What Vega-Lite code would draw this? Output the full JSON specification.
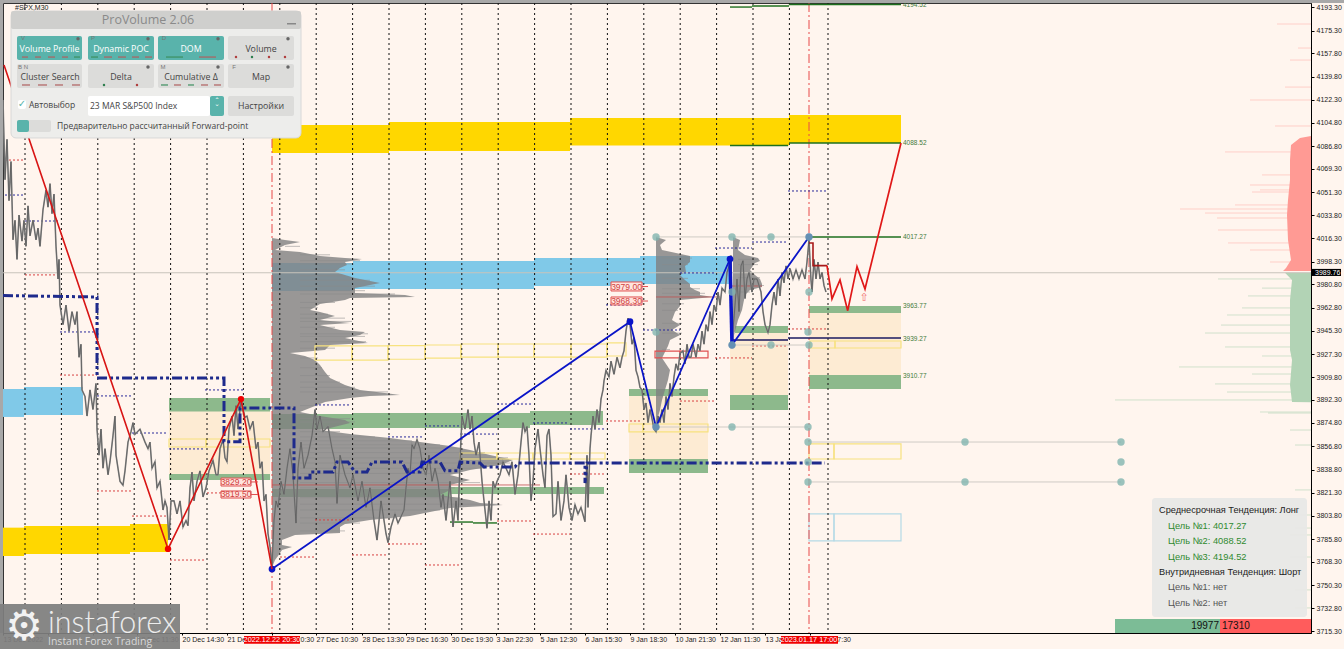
{"$schema":"https://vega.github.io/schema/vega-lite/v6.json","width":1308,"height":630,"autosize":"none","padding":{"left":3,"top":3,"right":33,"bottom":16},"background":"#FFF5EE","config":{"view":{"stroke":"#333"},"font":"Liberation Sans"},
"datasets":{
"zones":[
{"k":"tan","t":169,"t2":270,"p":3883.9,"p2":3835.6},{"k":"tan","t":629,"t2":708,"p":3895.4,"p2":3847.1},{"k":"tan","t":730,"t2":788,"p":3943.6,"p2":3896.1},{"k":"tan","t":809,"t2":901,"p":3958.9,"p2":3911.4},
{"k":"gold","t":272,"t2":389,"p":4102.9,"p2":4081.5},{"k":"gold","t":389,"t2":570,"p":4105.2,"p2":4083},{"k":"gold","t":570,"t2":789,"p":4108.3,"p2":4087.2},{"k":"gold","t":789,"t2":901,"p":4110.6,"p2":4089.2},{"k":"gold","t":3,"t2":24,"p":3794.5,"p2":3772.8},{"k":"gold","t":24,"t2":130,"p":3795.8,"p2":3774.4},{"k":"gold","t":130,"t2":168,"p":3797.3,"p2":3775.9},
{"k":"sky","t":272,"t2":353,"p":3997.2,"p2":3975.8},{"k":"sky","t":353,"t2":534,"p":3998.8,"p2":3977.3},{"k":"sky","t":534,"t2":640,"p":4001.1,"p2":3979.6},{"k":"sky","t":640,"t2":730,"p":4002.6,"p2":3981.2},{"k":"sky","t":3,"t2":24,"p":3900.7,"p2":3879.3},{"k":"sky","t":24,"t2":83,"p":3902.3,"p2":3880.8},
{"k":"green","t":169,"t2":270,"p":3893.8,"p2":3883.5},{"k":"green","t":169,"t2":270,"p":3835.6,"p2":3831},{"k":"green","t":272,"t2":353,"p":3881.6,"p2":3870.1},{"k":"green","t":353,"t2":530,"p":3882.4,"p2":3870.9},{"k":"green","t":530,"t2":603,"p":3883.9,"p2":3873.1},{"k":"green","t":272,"t2":450,"p":3824.1,"p2":3818},{"k":"green","t":450,"t2":604,"p":3825.7,"p2":3820.3},{"k":"green","t":629,"t2":708,"p":3900.7,"p2":3895.4},{"k":"green","t":629,"t2":708,"p":3847.1,"p2":3836.4},{"k":"green","t":730,"t2":788,"p":3896.1,"p2":3884.6},{"k":"green","t":735,"t2":788,"p":3949,"p2":3943.6},{"k":"green","t":809,"t2":901,"p":3964.3,"p2":3958.9},{"k":"green","t":809,"t2":901,"p":3911.4,"p2":3900.7}],
"boxes":[
{"k":"y","t":315,"t2":352,"p":3933.7,"p2":3922.9},{"k":"y","t":352,"t2":388,"p":3933.7,"p2":3922.9},{"k":"y","t":388,"t2":425,"p":3934,"p2":3923.5},{"k":"y","t":425,"t2":461,"p":3934.4,"p2":3924.4},{"k":"y","t":461,"t2":498,"p":3935.2,"p2":3925.2},{"k":"y","t":498,"t2":534,"p":3935.2,"p2":3925.2},{"k":"y","t":534,"t2":571,"p":3935.2,"p2":3925.2},{"k":"y","t":571,"t2":607,"p":3935.2,"p2":3925.2},{"k":"y","t":607,"t2":626,"p":3936,"p2":3926},
{"k":"y","t":169,"t2":206,"p":3862.4,"p2":3856.3},{"k":"y","t":206,"t2":270,"p":3862.4,"p2":3856.3},
{"k":"y","t":460,"t2":497,"p":3851.7,"p2":3847.1},{"k":"y","t":497,"t2":533,"p":3851.7,"p2":3847.1},{"k":"y","t":533,"t2":570,"p":3851.7,"p2":3847.1},{"k":"y","t":570,"t2":605,"p":3851.7,"p2":3847.1},
{"k":"y","t":629,"t2":643,"p":3873.9,"p2":3867.8},{"k":"y","t":643,"t2":680,"p":3873.9,"p2":3867.8},{"k":"y","t":680,"t2":708,"p":3873.9,"p2":3867.8},
{"k":"y","t":810,"t2":835,"p":3937.5,"p2":3932.1},{"k":"y","t":835,"t2":901,"p":3937.5,"p2":3932.1},
{"k":"y","t":809,"t2":834,"p":3858.6,"p2":3847.1},{"k":"y","t":834,"t2":901,"p":3858.6,"p2":3847.1},
{"k":"b","t":809,"t2":834,"p":3805,"p2":3784.3},{"k":"b","t":834,"t2":901,"p":3805,"p2":3784.3},
{"k":"r","t":655,"t2":680,"p":3929.8,"p2":3924.5},{"k":"r","t":680,"t2":708,"p":3929.8,"p2":3924.5}],
"prof1":[{"t":272,"p":4016.4},{"t":285,"p":4014.9},{"t":300,"p":4013.4},{"t":285,"p":4011},{"t":275,"p":4007.2},{"t":300,"p":4005.7},{"t":320,"p":4002.6},{"t":345,"p":4001.1},{"t":362,"p":4000.3},{"t":345,"p":3998},{"t":347,"p":3995.7},{"t":340,"p":3993.4},{"t":335,"p":3990.3},{"t":355,"p":3985.8},{"t":380,"p":3981.9},{"t":355,"p":3978.1},{"t":355,"p":3974.3},{"t":405,"p":3972.7},{"t":415,"p":3971.2},{"t":350,"p":3970.4},{"t":345,"p":3968.9},{"t":320,"p":3965.8},{"t":310,"p":3961.2},{"t":320,"p":3959.7},{"t":335,"p":3956.6},{"t":320,"p":3953.6},{"t":350,"p":3951.3},{"t":320,"p":3949.7},{"t":340,"p":3945.9},{"t":365,"p":3944.4},{"t":360,"p":3942.1},{"t":345,"p":3939.8},{"t":368,"p":3936},{"t":330,"p":3934.4},{"t":325,"p":3930.6},{"t":290,"p":3928.3},{"t":305,"p":3926},{"t":315,"p":3922.9},{"t":320,"p":3919.1},{"t":325,"p":3913.7},{"t":330,"p":3909.2},{"t":345,"p":3903.8},{"t":360,"p":3900},{"t":385,"p":3897.7},{"t":400,"p":3896.1},{"t":370,"p":3895.4},{"t":350,"p":3893.8},{"t":325,"p":3890.8},{"t":310,"p":3886.2},{"t":300,"p":3883.1},{"t":320,"p":3880},{"t":345,"p":3877},{"t":350,"p":3874.7},{"t":330,"p":3870.9},{"t":320,"p":3869.3},{"t":350,"p":3866.3},{"t":390,"p":3863.2},{"t":420,"p":3860.1},{"t":450,"p":3857.1},{"t":470,"p":3854},{"t":490,"p":3850.2},{"t":513,"p":3846.3},{"t":500,"p":3842.5},{"t":470,"p":3838.7},{"t":450,"p":3834.8},{"t":470,"p":3831},{"t":450,"p":3827.2},{"t":450,"p":3823.4},{"t":440,"p":3819.5},{"t":470,"p":3815.7},{"t":480,"p":3813.4},{"t":503,"p":3811.9},{"t":450,"p":3809.6},{"t":430,"p":3806.5},{"t":410,"p":3803.4},{"t":370,"p":3800.4},{"t":345,"p":3797.3},{"t":340,"p":3795},{"t":340,"p":3790.4},{"t":295,"p":3788.9},{"t":282,"p":3785},{"t":282,"p":3781.2},{"t":292,"p":3779.7},{"t":282,"p":3777.4},{"t":278,"p":3772.8},{"t":275,"p":3769.7},{"t":273,"p":3765.9}],
"prof2":[{"t":656,"p":4017.2},{"t":666,"p":4014.9},{"t":660,"p":4011},{"t":662,"p":4007.2},{"t":690,"p":4002.6},{"t":690,"p":3998},{"t":685,"p":3994.9},{"t":686,"p":3990.3},{"t":680,"p":3988},{"t":685,"p":3984.2},{"t":690,"p":3981.2},{"t":690,"p":3978.9},{"t":695,"p":3976.6},{"t":700,"p":3975},{"t":700,"p":3972.7},{"t":713,"p":3971.2},{"t":680,"p":3968.9},{"t":680,"p":3964.3},{"t":675,"p":3959.7},{"t":672,"p":3953.6},{"t":680,"p":3949.7},{"t":672,"p":3945.9},{"t":680,"p":3942.1},{"t":670,"p":3938.3},{"t":668,"p":3933.7},{"t":665,"p":3929.1},{"t":662,"p":3924.5},{"t":670,"p":3915.3},{"t":668,"p":3907.6},{"t":665,"p":3900},{"t":662,"p":3892.3},{"t":660,"p":3884.6},{"t":657,"p":3877},{"t":656,"p":3871.6}],
"prof3":[{"t":733,"p":4017.2},{"t":740,"p":4014.9},{"t":738,"p":4007.2},{"t":745,"p":4003.4},{"t":758,"p":4001.1},{"t":760,"p":3998.8},{"t":755,"p":3997.2},{"t":750,"p":3991.9},{"t":755,"p":3988},{"t":760,"p":3985},{"t":762,"p":3981.2},{"t":762,"p":3978.9},{"t":750,"p":3976.6},{"t":745,"p":3972.7},{"t":742,"p":3961.2},{"t":738,"p":3953.6},{"t":734,"p":3942.1},{"t":733,"p":3934.4}],
"spk1":[{"t":285,"p":4010},{"t":330,"p":4003.5},{"t":360,"p":3999},{"t":352,"p":3996.5},{"t":345,"p":3992},{"t":345,"p":3987.5},{"t":370,"p":3984},{"t":375,"p":3979.5},{"t":365,"p":3976},{"t":395,"p":3973.5},{"t":335,"p":3967},{"t":318,"p":3963},{"t":328,"p":3958},{"t":345,"p":3955},{"t":352,"p":3952.5},{"t":335,"p":3948},{"t":368,"p":3943},{"t":365,"p":3941},{"t":366,"p":3937},{"t":335,"p":3932},{"t":318,"p":3924.5},{"t":322,"p":3917},{"t":330,"p":3911},{"t":340,"p":3906},{"t":355,"p":3902},{"t":388,"p":3898.5},{"t":318,"p":3888},{"t":350,"p":3878},{"t":355,"p":3875.5},{"t":340,"p":3868},{"t":375,"p":3864},{"t":412,"p":3861},{"t":440,"p":3858},{"t":460,"p":3855.5},{"t":485,"p":3852},{"t":508,"p":3848},{"t":510,"p":3844},{"t":485,"p":3840},{"t":462,"p":3836},{"t":480,"p":3829},{"t":455,"p":3825},{"t":460,"p":3817.5},{"t":500,"p":3812.5},{"t":440,"p":3808},{"t":395,"p":3802},{"t":360,"p":3798},{"t":345,"p":3792}],
"spk2":[{"t":692,"p":4001},{"t":688,"p":3996},{"t":688,"p":3985.5},{"t":700,"p":3977.5},{"t":705,"p":3974},{"t":684,"p":3966},{"t":678,"p":3961},{"t":682,"p":3951},{"t":682,"p":3943.5},{"t":670,"p":3931}],
"spk3":[{"t":758,"p":4000},{"t":758,"p":3996},{"t":760,"p":3986},{"t":764,"p":3980},{"t":750,"p":3975}],
"histPink":[{"t":1311,"p":4094.5},{"t":1300,"p":4093},{"t":1291,"p":4087.6},{"t":1290,"p":4076.1},{"t":1290,"p":4060.8},{"t":1288,"p":4045.5},{"t":1287,"p":4034},{"t":1288,"p":4014.9},{"t":1291,"p":3999.5},{"t":1286,"p":3993.4},{"t":1283,"p":3991.1}],
"histGreen":[{"t":1285,"p":3989.8},{"t":1292,"p":3984.2},{"t":1290,"p":3968.9},{"t":1290,"p":3930.6},{"t":1292,"p":3923},{"t":1290,"p":3903.8},{"t":1292,"p":3890.8},{"t":1311,"p":3890.5}],
"spikesPink":[{"t":1277,"p":4180.3},{"t":1298,"p":4161.9},{"t":1290,"p":4152.7},{"t":1285,"p":4132},{"t":1250,"p":4122.1},{"t":1275,"p":4102.2},{"t":1225,"p":4082.3},{"t":1262,"p":4064.7},{"t":1250,"p":4057},{"t":1260,"p":4053.2},{"t":1252,"p":4051.6},{"t":1235,"p":4041.7},{"t":1180,"p":4038.6},{"t":1205,"p":4035.5},{"t":1217,"p":4031.7},{"t":1218,"p":4022.5},{"t":1228,"p":4012.6},{"t":1250,"p":4007.2},{"t":1270,"p":3998}],
"spikesGreen":[{"t":1218,"p":3985},{"t":1262,"p":3978},{"t":1248,"p":3972},{"t":1242,"p":3962.8},{"t":1227,"p":3957.4},{"t":1221,"p":3949.7},{"t":1205,"p":3943.6},{"t":1225,"p":3932.9},{"t":1262,"p":3926},{"t":1179,"p":3917.6},{"t":1252,"p":3912.2},{"t":1215,"p":3904.6},{"t":1227,"p":3898.4},{"t":1115,"p":3892.3},{"t":1260,"p":3883.1},{"t":1268,"p":3882.3},{"t":1290,"p":3869.3},{"t":1295,"p":3857.8},{"t":1295,"p":3823.4},{"t":1285,"p":3804.2},{"t":1295,"p":3794.2},{"t":1290,"p":3788.9},{"t":1290,"p":3772},{"t":1295,"p":3746.8},{"t":1295,"p":3733}],
"vlines":[{"t":25,"p":4196.4,"p2":3713.8},{"t":61.4,"p":4196.4,"p2":3713.8},{"t":97.8,"p":4196.4,"p2":3713.8},{"t":134.2,"p":4196.4,"p2":3713.8},{"t":170.6,"p":4196.4,"p2":3713.8},{"t":207,"p":4196.4,"p2":3713.8},{"t":243.4,"p":4196.4,"p2":3713.8},{"t":279.8,"p":4196.4,"p2":3713.8},{"t":316.2,"p":4196.4,"p2":3713.8},{"t":352.6,"p":4196.4,"p2":3713.8},{"t":389,"p":4196.4,"p2":3713.8},{"t":425.4,"p":4196.4,"p2":3713.8},{"t":461.8,"p":4196.4,"p2":3713.8},{"t":498.2,"p":4196.4,"p2":3713.8},{"t":534.6,"p":4196.4,"p2":3713.8},{"t":571,"p":4196.4,"p2":3713.8},{"t":607.4,"p":4196.4,"p2":3713.8},{"t":643.8,"p":4196.4,"p2":3713.8},{"t":680.2,"p":4196.4,"p2":3713.8},{"t":716.6,"p":4196.4,"p2":3713.8},{"t":753,"p":4196.4,"p2":3713.8},{"t":789.4,"p":4196.4,"p2":3713.8},{"t":828,"p":4196.4,"p2":3713.8}],
"redV":[{"t":272,"p":4196.4,"p2":3713.8},{"t":809,"p":4196.4,"p2":3713.8}],
"dashBlue":[{"t":5,"t2":25,"p":4049.3},{"t":25,"t2":58,"p":4029.4},{"t":60,"t2":97,"p":3944.4},{"t":97,"t2":132,"p":3895.4},{"t":132,"t2":168,"p":3867},{"t":169,"t2":205,"p":3854.8},{"t":205,"t2":243,"p":3900},{"t":315,"t2":350,"p":3888.5},{"t":388,"t2":423,"p":3864},{"t":425,"t2":460,"p":3872.4},{"t":460,"t2":497,"p":3866.2},{"t":497,"t2":532,"p":3889.2},{"t":533,"t2":568,"p":3874.7},{"t":570,"t2":605,"p":3870.1},{"t":606,"t2":640,"p":3965.1},{"t":643,"t2":680,"p":3945.9},{"t":680,"t2":715,"p":3989.6},{"t":715,"t2":752,"p":4008.7},{"t":752,"t2":788,"p":4013.3},{"t":788,"t2":828,"p":4052.4}],
"dashRed":[{"t":5,"t2":25,"p":4076.1},{"t":25,"t2":58,"p":3988.1},{"t":60,"t2":97,"p":3911.4},{"t":97,"t2":132,"p":3822.6},{"t":132,"t2":168,"p":3803.4},{"t":170,"t2":205,"p":3769.7},{"t":207,"t2":243,"p":3821.1},{"t":280,"t2":315,"p":3772},{"t":315,"t2":350,"p":3800.4},{"t":352,"t2":388,"p":3773.6},{"t":388,"t2":423,"p":3782},{"t":425,"t2":460,"p":3765.9},{"t":497,"t2":532,"p":3799.6},{"t":533,"t2":570,"p":3789.6},{"t":570,"t2":605,"p":3835.6},{"t":606,"t2":642,"p":3876.2},{"t":680,"t2":715,"p":3891.5},{"t":715,"t2":752,"p":3924.5},{"t":752,"t2":788,"p":3933.7},{"t":788,"t2":828,"p":3946.7}],
"solidGreen":[{"t":730,"t2":752,"p":4193.3},{"t":752,"t2":789,"p":4194.1},{"t":789,"t2":901,"p":4195.3},{"t":730,"t2":788,"p":4087.2},{"t":789,"t2":901,"p":4089.2},{"t":809,"t2":901,"p":4017.2},{"t":450,"t2":473,"p":3798.8},{"t":473,"t2":497,"p":3798.1}],
"solidNavy":[{"t":733,"t2":788,"p":3938.3},{"t":788,"t2":901,"p":3939.8}],
"solidGrey":[{"t":656,"t2":809,"p":4017.2},{"t":732,"t2":809,"p":3934.4},{"t":656,"t2":808,"p":3871.6},{"t":808,"t2":1121,"p":3860.1},{"t":808,"t2":1121,"p":3829.5}],
"solidRed":[{"t":272,"t2":540,"p":3827.2},{"t":656,"t2":720,"p":3971.2},{"t":730,"t2":762,"p":3979.6}],
"price":[{"t":3,"p":4122},{"t":5,"p":4061},{"t":7,"p":4092},{"t":9,"p":4045},{"t":11,"p":4075},{"t":13,"p":4015},{"t":15,"p":4030},{"t":17,"p":4000},{"t":19,"p":4034},{"t":22,"p":4014},{"t":24,"p":4030},{"t":26,"p":4010},{"t":28,"p":4041},{"t":30,"p":4018},{"t":33,"p":4030},{"t":36,"p":4015},{"t":38,"p":4024},{"t":40,"p":4010},{"t":43,"p":4038},{"t":46,"p":4053},{"t":48,"p":4040},{"t":50,"p":4058},{"t":52,"p":4035},{"t":54,"p":4050},{"t":56,"p":4010},{"t":58,"p":3985},{"t":59,"p":4000},{"t":60,"p":3965},{"t":63,"p":3950},{"t":66,"p":3965},{"t":69,"p":3945},{"t":72,"p":3960},{"t":75,"p":3950},{"t":77,"p":3960},{"t":79,"p":3925},{"t":81,"p":3935},{"t":82,"p":3900},{"t":85,"p":3895},{"t":87,"p":3880},{"t":90,"p":3900},{"t":93,"p":3885},{"t":96,"p":3905},{"t":97,"p":3870},{"t":99,"p":3850},{"t":101,"p":3870},{"t":103,"p":3840},{"t":105,"p":3855},{"t":108,"p":3835},{"t":110,"p":3845},{"t":113,"p":3865},{"t":115,"p":3880},{"t":116,"p":3850},{"t":118,"p":3840},{"t":120,"p":3830},{"t":123,"p":3827},{"t":125,"p":3838},{"t":128,"p":3860},{"t":131,"p":3868},{"t":133,"p":3875},{"t":135,"p":3866},{"t":140,"p":3870},{"t":145,"p":3860},{"t":148,"p":3855},{"t":150,"p":3860},{"t":152,"p":3840},{"t":155,"p":3845},{"t":157,"p":3825},{"t":160,"p":3830},{"t":163,"p":3808},{"t":165,"p":3815},{"t":167,"p":3810},{"t":169,"p":3785},{"t":171,"p":3815},{"t":174,"p":3815},{"t":177,"p":3805},{"t":180,"p":3815},{"t":183,"p":3795},{"t":186,"p":3800},{"t":188,"p":3796},{"t":190,"p":3825},{"t":192,"p":3837},{"t":194,"p":3815},{"t":197,"p":3830},{"t":200,"p":3838},{"t":203,"p":3818},{"t":206,"p":3825},{"t":209,"p":3838},{"t":213,"p":3846},{"t":216,"p":3835},{"t":218,"p":3835},{"t":220,"p":3855},{"t":223,"p":3862},{"t":225,"p":3848},{"t":227,"p":3845},{"t":229,"p":3870},{"t":232,"p":3880},{"t":234,"p":3865},{"t":236,"p":3888},{"t":238,"p":3870},{"t":241,"p":3893},{"t":243,"p":3885},{"t":245,"p":3879},{"t":247,"p":3880},{"t":250,"p":3870},{"t":253,"p":3876},{"t":256,"p":3855},{"t":258,"p":3860},{"t":260,"p":3840},{"t":262,"p":3845},{"t":264,"p":3815},{"t":266,"p":3820},{"t":268,"p":3790},{"t":270,"p":3780},{"t":272,"p":3765},{"t":274,"p":3800},{"t":276,"p":3815},{"t":278,"p":3810},{"t":281,"p":3830},{"t":284,"p":3820},{"t":287,"p":3840},{"t":290,"p":3855},{"t":293,"p":3835},{"t":296,"p":3798},{"t":298,"p":3840},{"t":301,"p":3860},{"t":304,"p":3840},{"t":308,"p":3850},{"t":312,"p":3865},{"t":315,"p":3885},{"t":317,"p":3870},{"t":320,"p":3880},{"t":323,"p":3868},{"t":328,"p":3872},{"t":332,"p":3855},{"t":335,"p":3845},{"t":337,"p":3813},{"t":340,"p":3850},{"t":345,"p":3835},{"t":350,"p":3825},{"t":353,"p":3835},{"t":358,"p":3815},{"t":362,"p":3830},{"t":366,"p":3810},{"t":370,"p":3825},{"t":374,"p":3800},{"t":377,"p":3785},{"t":378,"p":3792},{"t":381,"p":3815},{"t":384,"p":3800},{"t":386,"p":3790},{"t":388,"p":3783},{"t":391,"p":3795},{"t":395,"p":3805},{"t":398,"p":3798},{"t":401,"p":3803},{"t":404,"p":3808},{"t":406,"p":3825},{"t":408,"p":3840},{"t":410,"p":3835},{"t":412,"p":3858},{"t":414,"p":3855},{"t":417,"p":3862},{"t":420,"p":3855},{"t":423,"p":3840},{"t":426,"p":3835},{"t":429,"p":3850},{"t":432,"p":3830},{"t":435,"p":3840},{"t":438,"p":3830},{"t":441,"p":3810},{"t":443,"p":3820},{"t":446,"p":3800},{"t":450,"p":3830},{"t":453,"p":3795},{"t":456,"p":3815},{"t":458,"p":3800},{"t":460,"p":3845},{"t":462,"p":3880},{"t":465,"p":3870},{"t":468,"p":3885},{"t":470,"p":3870},{"t":472,"p":3880},{"t":474,"p":3860},{"t":476,"p":3850},{"t":479,"p":3860},{"t":482,"p":3830},{"t":484,"p":3815},{"t":487,"p":3794},{"t":489,"p":3815},{"t":491,"p":3800},{"t":493,"p":3830},{"t":495,"p":3825},{"t":497,"p":3830},{"t":500,"p":3835},{"t":503,"p":3845},{"t":506,"p":3840},{"t":509,"p":3835},{"t":512,"p":3845},{"t":515,"p":3820},{"t":518,"p":3835},{"t":521,"p":3860},{"t":523,"p":3875},{"t":525,"p":3868},{"t":527,"p":3872},{"t":529,"p":3850},{"t":531,"p":3815},{"t":533,"p":3830},{"t":535,"p":3855},{"t":538,"p":3870},{"t":540,"p":3855},{"t":543,"p":3835},{"t":545,"p":3825},{"t":547,"p":3865},{"t":549,"p":3870},{"t":551,"p":3850},{"t":553,"p":3803},{"t":556,"p":3805},{"t":558,"p":3830},{"t":561,"p":3800},{"t":564,"p":3815},{"t":566,"p":3835},{"t":569,"p":3810},{"t":572,"p":3800},{"t":575,"p":3812},{"t":578,"p":3805},{"t":581,"p":3810},{"t":585,"p":3799},{"t":587,"p":3850},{"t":588,"p":3810},{"t":590,"p":3855},{"t":591,"p":3865},{"t":593,"p":3880},{"t":595,"p":3870},{"t":597,"p":3885},{"t":599,"p":3875},{"t":601,"p":3893},{"t":603,"p":3900},{"t":604,"p":3907},{"t":606,"p":3915},{"t":609,"p":3910},{"t":611,"p":3922},{"t":614,"p":3912},{"t":617,"p":3925},{"t":620,"p":3917},{"t":622,"p":3925},{"t":624,"p":3930},{"t":626,"p":3945},{"t":628,"p":3955},{"t":630,"p":3950},{"t":632,"p":3935},{"t":634,"p":3940},{"t":636,"p":3915},{"t":638,"p":3910},{"t":640,"p":3902},{"t":642,"p":3900},{"t":644,"p":3885},{"t":646,"p":3890},{"t":648,"p":3875},{"t":650,"p":3885},{"t":652,"p":3878},{"t":654,"p":3870},{"t":656,"p":3868},{"t":658,"p":3880},{"t":660,"p":3875},{"t":662,"p":3885},{"t":664,"p":3875},{"t":666,"p":3895},{"t":668,"p":3885},{"t":670,"p":3905},{"t":672,"p":3895},{"t":674,"p":3910},{"t":676,"p":3920},{"t":678,"p":3915},{"t":680,"p":3928},{"t":683,"p":3930},{"t":685,"p":3920},{"t":687,"p":3935},{"t":689,"p":3925},{"t":691,"p":3925},{"t":693,"p":3935},{"t":696,"p":3925},{"t":698,"p":3935},{"t":700,"p":3930},{"t":702,"p":3945},{"t":704,"p":3935},{"t":706,"p":3950},{"t":708,"p":3945},{"t":710,"p":3960},{"t":712,"p":3950},{"t":714,"p":3965},{"t":716,"p":3960},{"t":718,"p":3975},{"t":720,"p":3965},{"t":722,"p":3978},{"t":725,"p":3975},{"t":727,"p":3990},{"t":729,"p":3995},{"t":731,"p":4003},{"t":732,"p":3940},{"t":734,"p":3955},{"t":737,"p":3985},{"t":739,"p":3960},{"t":741,"p":3995},{"t":743,"p":3999},{"t":745,"p":3970},{"t":747,"p":3985},{"t":749,"p":3990},{"t":752,"p":3975},{"t":754,"p":3985},{"t":757,"p":3985},{"t":759,"p":3980},{"t":761,"p":3975},{"t":763,"p":3960},{"t":765,"p":3950},{"t":768,"p":3944},{"t":770,"p":3950},{"t":772,"p":3965},{"t":774,"p":3975},{"t":776,"p":3965},{"t":778,"p":3985},{"t":780,"p":3972},{"t":782,"p":3990},{"t":784,"p":3982},{"t":786,"p":3995},{"t":788,"p":3985},{"t":790,"p":3993},{"t":793,"p":3985},{"t":796,"p":3992},{"t":799,"p":3985},{"t":802,"p":3992},{"t":805,"p":3985},{"t":807,"p":3998},{"t":809,"p":4015},{"t":811,"p":3984},{"t":812,"p":3975},{"t":814,"p":4000},{"t":816,"p":3985},{"t":818,"p":3998},{"t":820,"p":3985},{"t":822,"p":3990},{"t":824,"p":3980},{"t":826,"p":3975}],
"poc":[{"t":3,"p":3972.3},{"t":97,"p":3971.2},{"t":97,"p":3909.2},{"t":224,"p":3909.2},{"t":224,"p":3860.3},{"t":240,"p":3860.3},{"t":240,"p":3886.2},{"t":294,"p":3886.2},{"t":294,"p":3832.5},{"t":310,"p":3832.5},{"t":310,"p":3837.1},{"t":333,"p":3837.1},{"t":337,"p":3844.8},{"t":348,"p":3844.8},{"t":355,"p":3837.1},{"t":367,"p":3837.1},{"t":372,"p":3844.8},{"t":402,"p":3844.8},{"t":407,"p":3837.1},{"t":420,"p":3837.1},{"t":422,"p":3844.8},{"t":440,"p":3844.8},{"t":445,"p":3838},{"t":458,"p":3838},{"t":460,"p":3844.8},{"t":480,"p":3844},{"t":484,"p":3841},{"t":515,"p":3841},{"t":518,"p":3844},{"t":585,"p":3844},{"t":585,"p":3828.7},{"t":587,"p":3844},{"t":825,"p":3844}],
"blueZig":[{"t":272,"p":3762.8},{"t":630,"p":3952.3},{"t":656,"p":3871.6},{"t":730,"p":4000.3},{"t":732,"p":3934.4},{"t":809,"p":4017.2}],
"blueThick":[{"t":730,"p":4000.3},{"t":732,"p":3934.4}],
"redZig":[{"t":4,"p":4148.9},{"t":168,"p":3778.2},{"t":241,"p":3893},{"t":272,"p":3762.8}],
"redDots":[{"t":168,"p":3778.2},{"t":241,"p":3893}],
"darkStep":[{"t":809,"p":4012.6},{"t":813,"p":4012.6},{"t":813,"p":3995.2},{"t":827,"p":3995.2}],
"forecast":[{"t":827,"p":3995.2},{"t":832,"p":3969.7},{"t":840,"p":3984.2},{"t":847.7,"p":3960.7},{"t":857,"p":3994.4},{"t":865,"p":3977.3},{"t":901,"p":4089.2}],
"tealDots":[{"t":656,"p":4017.2},{"t":732,"p":4017.2},{"t":771,"p":4017.2},{"t":809,"p":4017.2},{"t":732,"p":3975},{"t":809,"p":3975},{"t":656,"p":3944.4},{"t":808,"p":3944.4},{"t":732,"p":3934.4},{"t":771,"p":3934.4},{"t":809,"p":3934.4},{"t":656,"p":3871.6},{"t":732,"p":3871.6},{"t":808,"p":3871.6},{"t":808,"p":3860.1},{"t":965,"p":3860.1},{"t":1121,"p":3860.1},{"t":808,"p":3844.8},{"t":1121,"p":3844.8},{"t":808,"p":3829.5},{"t":965,"p":3829.5},{"t":1121,"p":3829.5}],
"levelLabels":[{"t":903,"p":4195,"s":"4194.52"},{"t":903,"p":4088.9,"s":"4088.52"},{"t":903,"p":4017.3,"s":"4017.27"},{"t":903,"p":3964,"s":"3963.77"},{"t":903,"p":3939.3,"s":"3939.27"},{"t":903,"p":3911,"s":"3910.77"}],
"tags":[{"t":221,"t2":251,"p":3832.5,"p2":3826.4},{"t":221,"t2":251,"p":3822.6,"p2":3817.2},{"t":611,"t2":642,"p":3982.7,"p2":3975.8},{"t":611,"t2":642,"p":3971.2,"p2":3965.1}],
"tagTails":[{"t":251,"t2":258,"p":3829.5},{"t":251,"t2":258,"p":3819.9},{"t":642,"t2":648,"p":3979.2},{"t":642,"t2":648,"p":3968.1}],
"tagText":[{"t":236,"p":3829.5,"s":"3829.20"},{"t":236,"p":3819.9,"s":"3819.50"},{"t":626.5,"p":3979.2,"s":"3979.00"},{"t":626.5,"p":3968.1,"s":"3968.30"}],
"frame":[{"t":0,"t2":1344,"p":4198.7,"p2":4196.4},{"t":0,"t2":3,"p":4198.7,"p2":3713.8}],
"infoHead":[{"t":1159,"p":3808,"s":"Среднесрочная Тенденция: Лонг"},{"t":1159,"p":3760.5,"s":"Внутридневная Тенденция: Шорт"}],
"infoGreen":[{"t":1168,"p":3795.8,"s":"Цель №1: 4017.27"},{"t":1168,"p":3784.3,"s":"Цель №2: 4088.52"},{"t":1168,"p":3772,"s":"Цель №3: 4194.52"}],
"infoGrey":[{"t":1168,"p":3749,"s":"Цель №1: нет"},{"t":1168,"p":3736.8,"s":"Цель №2: нет"}],
"panelRects":[
{"k":"title","t":11,"t2":301,"p":4190.3,"p2":4176.5},
{"k":"teal","t":17,"t2":82,"p":4171.1,"p2":4152.7},{"k":"teal","t":88,"t2":154,"p":4171.1,"p2":4152.7},{"k":"teal","t":158,"t2":224,"p":4171.1,"p2":4152.7},{"k":"btn","t":228,"t2":294,"p":4171.1,"p2":4152.7},
{"k":"btn","t":17,"t2":82,"p":4149.7,"p2":4131.3},{"k":"btn","t":88,"t2":154,"p":4149.7,"p2":4131.3},{"k":"btn","t":158,"t2":224,"p":4149.7,"p2":4131.3},{"k":"btn","t":228,"t2":294,"p":4149.7,"p2":4131.3},
{"k":"white","t":88,"t2":210,"p":4125.2,"p2":4109.8},{"k":"teal","t":210,"t2":224,"p":4125.2,"p2":4109.8},{"k":"btn","t":228,"t2":294,"p":4125.2,"p2":4109.8},
{"k":"white","t":18,"t2":26,"p":4122.1,"p2":4115.2},
{"k":"btn","t":17,"t2":51,"p":4106.8,"p2":4097.6},{"k":"teal","t":17,"t2":29,"p":4106.8,"p2":4097.6}],
"panelRed":[{"t":22,"t2":28,"p":4155},{"t":35,"t2":41,"p":4155},{"t":48,"t2":55,"p":4155},{"t":62,"t2":68,"p":4155},{"t":104,"t2":112,"p":4155},{"t":118,"t2":126,"p":4155},{"t":132,"t2":139,"p":4155},{"t":145,"t2":152,"p":4155},{"t":199,"t2":216,"p":4155},{"t":22,"t2":30,"p":4133.6},{"t":38,"t2":47,"p":4133.6},{"t":55,"t2":63,"p":4133.6},{"t":72,"t2":80,"p":4133.6},{"t":174,"t2":181,"p":4133.6},{"t":201,"t2":208,"p":4133.6},{"t":214,"t2":221,"p":4133.6}],
"panelGreen":[{"t":74,"t2":80,"p":4155},{"t":91,"t2":98,"p":4155},{"t":166,"t2":183,"p":4155},{"t":161,"t2":168,"p":4133.6},{"t":188,"t2":194,"p":4133.6}],
"panelDotsRed":[{"t":236,"p":4155},{"t":269,"p":4155},{"t":285,"p":4155},{"t":137,"p":4133.6}],
"panelDotsGreen":[{"t":252,"p":4155},{"t":104,"p":4133.6}],
"gears":[{"t":78,"p":4169},{"t":148,"p":4169},{"t":218,"p":4169},{"t":288,"p":4169},{"t":148,"p":4147.4},{"t":218,"p":4147.4},{"t":288,"p":4147.4}],
"keys":[{"t":23,"p":4169.5,"s":"V"},{"t":93,"p":4169.5,"s":"P"},{"t":164,"p":4169.5,"s":"D"},{"t":23,"p":4147.5,"s":"B N"},{"t":163,"p":4147.5,"s":"M"},{"t":234,"p":4147.5,"s":"F"}],
"btnWhite":[{"t":49.5,"p":4161,"s":"Volume Profile"},{"t":121,"p":4161,"s":"Dynamic POC"},{"t":191,"p":4161,"s":"DOM"},{"t":217,"p":4120.5,"s":"ˆ"},{"t":217,"p":4115,"s":"ˇ"}],
"btnDark":[{"t":261,"p":4161,"s":"Volume"},{"t":50,"p":4140,"s":"Cluster Search"},{"t":121,"p":4140,"s":"Delta"},{"t":191,"p":4140,"s":"Cumulative Δ"},{"t":261,"p":4140,"s":"Map"},{"t":261,"p":4117.5,"s":"Настройки"}],
"panelLeft":[{"t":29,"p":4118.5,"s":"Автовыбор"},{"t":90,"p":4117.5,"s":"23 MAR S&P500 Index"},{"t":57,"p":4102,"s":"Предварительно рассчитанный Forward-point"}],
"dateTags":[{"t":244,"t2":300,"p":3711.5,"p2":3705.5},{"t":781,"t2":838,"p":3711.5,"p2":3705.5}],
"dateText":[{"t":272,"p":3708.6,"s":"2022.12.22 20:30"},{"t":809,"p":3708.6,"s":"2023.01.17 17:00"}]
},
"encoding":{
"x":{"field":"t","type":"quantitative","scale":{"domain":[3,1311],"nice":false,"zero":false},"axis":{"orient":"bottom","title":null,"grid":false,"values":[3,48,93,137,182,227,272,316,362,406,451,496,540,585,630,675,720,765,810],"labelExpr":"{'3':'13 Dec 2022','48':'','93':'','137':'19 Dec 11:30','182':'20 Dec 14:30','227':'21 Dec 17:30','272':'23 Dec 20:30','316':'27 Dec 10:30','362':'28 Dec 13:30','406':'29 Dec 16:30','451':'30 Dec 19:30','496':'3 Jan 22:30','540':'5 Jan 12:30','585':'6 Jan 15:30','630':'9 Jan 18:30','675':'10 Jan 21:30','720':'12 Jan 11:30','765':'13 Jan 14:30','810':'16 Jan 17:30'}[datum.value]","labelAlign":"left","labelFontSize":7,"labelPadding":0,"labelColor":"#222","labelOverlap":false,"labelFlush":false,"tickSize":2,"tickColor":"#000","domainColor":"#000"}},
"y":{"field":"p","type":"quantitative","scale":{"domain":[3713.8,4196.4],"nice":false,"zero":false},"axis":{"orient":"right","title":null,"grid":false,"values":[4193.3,4175.3,4157.8,4139.8,4122.3,4104.8,4086.8,4069.3,4051.3,4033.8,4016.3,3998.3,3980.8,3962.8,3945.3,3927.3,3909.8,3892.3,3874.8,3856.8,3838.8,3821.3,3803.8,3785.8,3768.3,3750.3,3732.8,3715.3],"format":".2f","labelFontSize":7,"labelPadding":2,"labelColor":"#222","labelOverlap":false,"tickSize":3,"tickColor":"#000","domainColor":"#000"}}
},
"resolve":{"scale":{"color":"independent"}},
"layer":[
{"data":{"name":"zones"},"mark":{"type":"rect"},"encoding":{"x2":{"field":"t2"},"y2":{"field":"p2"},"color":{"field":"k","type":"nominal","legend":null,"scale":{"domain":["tan","gold","sky","green"],"range":["#FDEBD3","#FFD700","#80C9E8","#8DB98C"]}}}},
{"data":{"name":"spikesPink"},"mark":{"type":"rule","color":"#FFB0AA","opacity":0.55},"encoding":{"x2":{"datum":1311}}},
{"data":{"name":"spikesGreen"},"mark":{"type":"rule","color":"#B2D3B5","opacity":0.6},"encoding":{"x2":{"datum":1311}}},
{"data":{"name":"histPink"},"mark":{"type":"area","orient":"horizontal","color":"#FF9A94"},"encoding":{"x2":{"datum":1311}}},
{"data":{"name":"histGreen"},"mark":{"type":"area","orient":"horizontal","color":"#B2D3B5"},"encoding":{"x2":{"datum":1311}}},
{"data":{"name":"prof1"},"mark":{"type":"area","orient":"horizontal","fill":"#7F7F7F","fillOpacity":0.8},"encoding":{"x2":{"datum":272}}},
{"data":{"name":"prof2"},"mark":{"type":"area","orient":"horizontal","fill":"#7F7F7F","fillOpacity":0.8},"encoding":{"x2":{"datum":656}}},
{"data":{"name":"prof3"},"mark":{"type":"area","orient":"horizontal","fill":"#7F7F7F","fillOpacity":0.8},"encoding":{"x2":{"datum":733}}},
{"data":{"name":"spk1"},"mark":{"type":"rule","color":"#8A8A8A","strokeWidth":1,"opacity":0.55},"encoding":{"x2":{"datum":300}}},
{"data":{"name":"spk2"},"mark":{"type":"rule","color":"#8A8A8A","strokeWidth":1,"opacity":0.55},"encoding":{"x2":{"datum":662}}},
{"data":{"name":"spk3"},"mark":{"type":"rule","color":"#8A8A8A","strokeWidth":1,"opacity":0.55},"encoding":{"x2":{"datum":738}}},
{"data":{"name":"boxes"},"mark":{"type":"rect","fillOpacity":0,"strokeWidth":1.2},"encoding":{"x2":{"field":"t2"},"y2":{"field":"p2"},"stroke":{"field":"k","type":"nominal","legend":null,"scale":{"domain":["y","b","r"],"range":["#F7E27F","#B5DAE6","#E05050"]}}}},
{"data":{"values":[{"t":3,"t2":1311,"p":3989.76}]},"mark":{"type":"rule","color":"#C8C3BB","strokeWidth":1},"encoding":{"x2":{"field":"t2"}}},
{"data":{"name":"vlines"},"mark":{"type":"rule","color":"#111","strokeWidth":1,"strokeDash":[2,3]},"encoding":{"y2":{"field":"p2"}}},
{"data":{"name":"redV"},"mark":{"type":"rule","color":"#E84848","strokeWidth":1,"strokeDash":[9,3,2,3]},"encoding":{"y2":{"field":"p2"}}},
{"data":{"name":"dashBlue"},"mark":{"type":"rule","color":"#2A2A9A","strokeWidth":1,"strokeDash":[2,2]},"encoding":{"x2":{"field":"t2"}}},
{"data":{"name":"dashRed"},"mark":{"type":"rule","color":"#D84040","strokeWidth":1,"strokeDash":[2,2]},"encoding":{"x2":{"field":"t2"}}},
{"data":{"name":"solidGrey"},"mark":{"type":"rule","color":"#CFCBC5","strokeWidth":1},"encoding":{"x2":{"field":"t2"}}},
{"data":{"name":"solidRed"},"mark":{"type":"rule","color":"#C05050","strokeWidth":1,"opacity":0.8},"encoding":{"x2":{"field":"t2"}}},
{"data":{"name":"solidGreen"},"mark":{"type":"rule","color":"#1E6F1E","strokeWidth":1.4},"encoding":{"x2":{"field":"t2"}}},
{"data":{"name":"solidNavy"},"mark":{"type":"rule","color":"#1A1A60","strokeWidth":1.4},"encoding":{"x2":{"field":"t2"}}},
{"data":{"name":"price"},"mark":{"type":"line","color":"#8A8A8A","strokeWidth":1.6},"encoding":{"order":null}},
{"data":{"name":"price"},"mark":{"type":"line","color":"#444","strokeWidth":0.5},"encoding":{"order":null}},
{"data":{"name":"poc"},"mark":{"type":"line","color":"#1E2A8C","strokeWidth":3,"strokeDash":[10,3,3,3,3,3]},"encoding":{"order":null}},
{"data":{"name":"blueZig"},"mark":{"type":"line","color":"#0A14C8","strokeWidth":1.8},"encoding":{"order":null}},
{"data":{"name":"blueThick"},"mark":{"type":"line","color":"#0A14C8","strokeWidth":3.5},"encoding":{"order":null}},
{"data":{"name":"blueZig"},"mark":{"type":"point","filled":true,"color":"#0A14C8","opacity":1,"size":45}},
{"data":{"name":"redZig"},"mark":{"type":"line","color":"#D81414","strokeWidth":1.6},"encoding":{"order":null}},
{"data":{"name":"redDots"},"mark":{"type":"point","filled":true,"color":"#F00000","opacity":1,"size":40}},
{"data":{"name":"darkStep"},"mark":{"type":"line","color":"#A81818","strokeWidth":1.6},"encoding":{"order":null}},
{"data":{"name":"forecast"},"mark":{"type":"line","color":"#E01818","strokeWidth":1.7},"encoding":{"order":null}},
{"data":{"name":"tealDots"},"mark":{"type":"point","filled":true,"color":"#7FB3AE","opacity":0.78,"size":55}},
{"data":{"values":[{"t":864,"p":3970.4,"s":"⇧"}]},"mark":{"type":"text","font":"DejaVu Sans","fontSize":11,"color":"#F07070","baseline":"middle"},"encoding":{"text":{"field":"s"}}},
{"data":{"name":"levelLabels"},"mark":{"type":"text","fontSize":6.5,"color":"#3F7A3A","align":"left","baseline":"middle"},"encoding":{"text":{"field":"s"}}},
{"data":{"name":"tags"},"mark":{"type":"rect","fill":"#FFE4DE","stroke":"#E05050","strokeWidth":1},"encoding":{"x2":{"field":"t2"},"y2":{"field":"p2"}}},
{"data":{"name":"tagTails"},"mark":{"type":"rule","color":"#E05050"},"encoding":{"x2":{"field":"t2"}}},
{"data":{"name":"tagText"},"mark":{"type":"text","fontSize":8.5,"color":"#D04040","baseline":"middle"},"encoding":{"text":{"field":"s"}}},
{"data":{"values":[{"t":1152,"t2":1307,"p":3817.2,"p2":3726}]},"mark":{"type":"rect","fill":"#E8E8E6","opacity":0.95,"cornerRadius":3},"encoding":{"x2":{"field":"t2"},"y2":{"field":"p2"}}},
{"data":{"name":"infoHead"},"mark":{"type":"text","fontSize":9.2,"color":"#222","align":"left","baseline":"middle"},"encoding":{"text":{"field":"s"}}},
{"data":{"name":"infoGreen"},"mark":{"type":"text","fontSize":9.3,"color":"#2F8A2F","align":"left","baseline":"middle"},"encoding":{"text":{"field":"s"}}},
{"data":{"name":"infoGrey"},"mark":{"type":"text","fontSize":9.3,"color":"#555","align":"left","baseline":"middle"},"encoding":{"text":{"field":"s"}}},
{"data":{"values":[{"t":1115,"t2":1220,"p":3724.6,"p2":3713.8}]},"mark":{"type":"rect","fill":"#7CBC96"},"encoding":{"x2":{"field":"t2"},"y2":{"field":"p2"}}},
{"data":{"values":[{"t":1220,"t2":1311,"p":3724.6,"p2":3713.8}]},"mark":{"type":"rect","fill":"#FF5C5C"},"encoding":{"x2":{"field":"t2"},"y2":{"field":"p2"}}},
{"data":{"values":[{"t":1219,"p":3719,"s":"19977"}]},"mark":{"type":"text","fontSize":10,"color":"#111","align":"right","baseline":"middle"},"encoding":{"text":{"field":"s"}}},
{"data":{"values":[{"t":1222,"p":3719,"s":"17310"}]},"mark":{"type":"text","fontSize":10,"color":"#111","align":"left","baseline":"middle"},"encoding":{"text":{"field":"s"}}},
{"data":{"values":[{"t":1312,"t2":1341,"p":3992.7,"p2":3987.3}]},"mark":{"type":"rect","fill":"#000"},"encoding":{"x2":{"field":"t2"},"y2":{"field":"p2"}}},
{"data":{"values":[{"t":1315,"p":3989.8,"s":"3989.76"}]},"mark":{"type":"text","fontSize":7,"color":"#fff","align":"left","baseline":"middle"},"encoding":{"text":{"field":"s"}}},
{"data":{"name":"frame"},"mark":{"type":"rect","fill":"#A8A8A8"},"encoding":{"x2":{"field":"t2"},"y2":{"field":"p2"}}},
{"data":{"values":[{"t":15,"p":4192.6,"s":"#SPX,M30"}]},"mark":{"type":"text","fontSize":7,"color":"#222","align":"left","baseline":"middle"},"encoding":{"text":{"field":"s"}}},
{"data":{"values":[{"t":11,"t2":301,"p":4190.3,"p2":4093}]},"mark":{"type":"rect","fill":"#EDEDEB","cornerRadius":5,"stroke":"#D8D8D8"},"encoding":{"x2":{"field":"t2"},"y2":{"field":"p2"}}},
{"data":{"name":"panelRects"},"mark":{"type":"rect","cornerRadius":2},"encoding":{"x2":{"field":"t2"},"y2":{"field":"p2"},"color":{"field":"k","type":"nominal","legend":null,"scale":{"domain":["title","teal","btn","white"],"range":["#CFCFCD","#59B3AB","#DCDCDA","#FFFFFF"]}}}},
{"data":{"name":"panelRed"},"mark":{"type":"rule","color":"#B06060","strokeWidth":1.2},"encoding":{"x2":{"field":"t2"}}},
{"data":{"name":"panelGreen"},"mark":{"type":"rule","color":"#3D8F60","strokeWidth":1.2},"encoding":{"x2":{"field":"t2"}}},
{"data":{"name":"panelDotsRed"},"mark":{"type":"point","filled":true,"color":"#B04040","opacity":1,"size":6}},
{"data":{"name":"panelDotsGreen"},"mark":{"type":"point","filled":true,"color":"#2F7F4F","opacity":1,"size":6}},
{"data":{"name":"gears"},"mark":{"type":"point","filled":true,"color":"#666","opacity":1,"size":12}},
{"data":{"name":"keys"},"mark":{"type":"text","fontSize":6,"color":"#777","baseline":"middle"},"encoding":{"text":{"field":"s"}}},
{"data":{"values":[{"t":148,"p":4183,"s":"ProVolume 2.06"}]},"mark":{"type":"text","font":"Open Sans","fontSize":12.5,"color":"#8A8A8A","baseline":"middle"},"encoding":{"text":{"field":"s"}}},
{"data":{"values":[{"t":287,"t2":296,"p":4180.5}]},"mark":{"type":"rule","color":"#888","strokeWidth":1.5},"encoding":{"x2":{"field":"t2"}}},
{"data":{"name":"btnWhite"},"mark":{"type":"text","font":"Open Sans","fontSize":8.8,"color":"#FFFFFF","baseline":"middle"},"encoding":{"text":{"field":"s"}}},
{"data":{"name":"btnDark"},"mark":{"type":"text","font":"Open Sans","fontSize":8.8,"color":"#444","baseline":"middle"},"encoding":{"text":{"field":"s"}}},
{"data":{"name":"panelLeft"},"mark":{"type":"text","font":"Open Sans","fontSize":8.5,"color":"#444","align":"left","baseline":"middle"},"encoding":{"text":{"field":"s"}}},
{"data":{"values":[{"t":22,"p":4119,"s":"✓"}]},"mark":{"type":"text","font":"DejaVu Sans","fontSize":10,"color":"#59B3AB","baseline":"middle"},"encoding":{"text":{"field":"s"}}},
{"data":{"values":[{"t":0,"t2":180,"p":3736,"p2":3701.6}]},"mark":{"type":"rect","fill":"#7E7E7E","opacity":0.93},"encoding":{"x2":{"field":"t2"},"y2":{"field":"p2"}}},
{"data":{"values":[{"t":24,"p":3718.5,"s":"⚙"}]},"mark":{"type":"text","font":"DejaVu Sans","fontSize":42,"color":"#F2F2F2","baseline":"middle"},"encoding":{"text":{"field":"s"}}},
{"data":{"values":[{"t":48,"p":3721,"s":"instaforex"}]},"mark":{"type":"text","font":"Lato","fontWeight":300,"fontSize":30.5,"color":"#EDEDED","align":"left","baseline":"middle"},"encoding":{"text":{"field":"s"}}},
{"data":{"values":[{"t":48,"p":3707,"s":"Instant Forex Trading"}]},"mark":{"type":"text","font":"Open Sans","fontSize":10.5,"color":"#D8D8D8","align":"left","baseline":"middle"},"encoding":{"text":{"field":"s"}}},
{"data":{"name":"dateTags"},"mark":{"type":"rect","fill":"#F00000"},"encoding":{"x2":{"field":"t2"},"y2":{"field":"p2"}}},
{"data":{"name":"dateText"},"mark":{"type":"text","fontSize":7.3,"color":"#fff","baseline":"middle"},"encoding":{"text":{"field":"s"}}}
]}
